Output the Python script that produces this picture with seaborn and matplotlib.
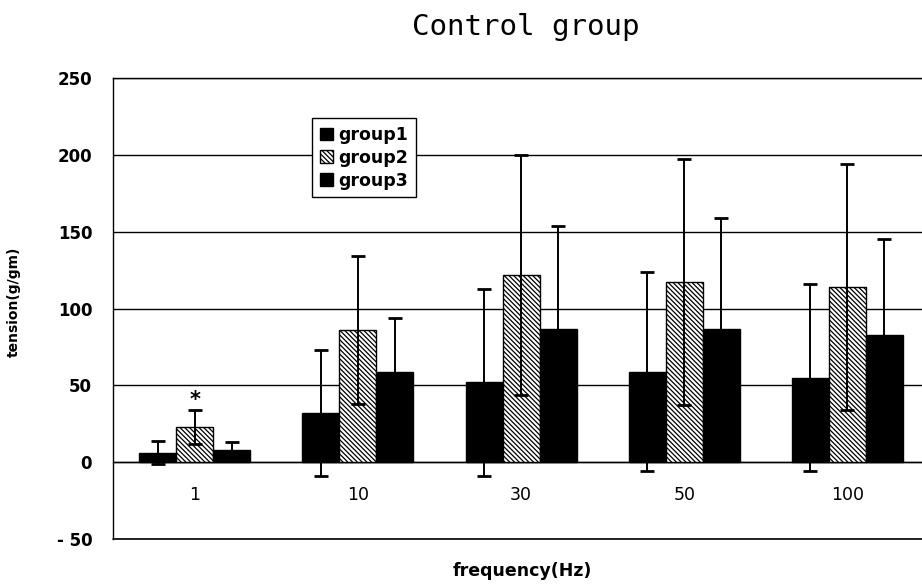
import numpy as np
import pandas as pd
import matplotlib
matplotlib.use("Agg")
import matplotlib.pyplot as plt
import seaborn as sns

# Stimulation frequencies and group labels
frequencies = ["1", "10", "30", "50", "100"]
groups = ["group1", "group2", "group3"]

# Mean tension (g/gm) and standard deviation per frequency
group1_mean = [6, 32, 52, 59, 55]
group1_sd = [7.5, 41, 61, 65, 61]
group2_mean = [23, 86, 122, 117, 114]
group2_sd = [11, 48, 78, 80, 80]
group3_mean = [8, 59, 87, 87, 83]
group3_sd = [5, 35, 67, 72, 62]

# y-axis ticks
yticks = [-50, 0, 50, 100, 150, 200, 250]
ytick_labels = ["- 50", "0", "50", "100", "150", "200", "250"]

means = [group1_mean, group2_mean, group3_mean]
sds = [group1_sd, group2_sd, group3_sd]

df = pd.DataFrame({
    "frequency": np.tile(frequencies, len(groups)),
    "group": np.repeat(groups, len(frequencies)),
    "tension": np.concatenate(means),
})

sns.set_style("white")
plt.rcParams["font.family"] = ["DejaVu Sans"]
plt.rcParams["hatch.linewidth"] = 0.9
for key in ["text.color", "axes.labelcolor", "xtick.color", "ytick.color"]:
    plt.rcParams[key] = "black"

fig = plt.figure(figsize=(9.22, 5.85), dpi=100)
ax = fig.add_axes([0.1226, 0.0786, 0.885, 0.788])

sns.barplot(data=df, x="frequency", y="tension", hue="group",
            order=frequencies, hue_order=groups,
            palette=["black", "white", "black"], saturation=1,
            width=0.68, errorbar=None, edgecolor="black", linewidth=1,
            legend=False, ax=ax, zorder=3)

# densely hatched fill for group2
for p in ax.containers[1].patches:
    p.set_hatch("\\" * 7)
    p.set_facecolor("white")
    p.set_edgecolor("black")

# error bars centred on each bar
for cont, m, s in zip(ax.containers, means, sds):
    xs = [p.get_x() + p.get_width() / 2 for p in cont.patches]
    ax.errorbar(xs, m, yerr=s, fmt="none", ecolor="black", elinewidth=1.4,
                capsize=5, capthick=2, zorder=4)

# significance marker over group2 at 1 Hz
p1 = ax.containers[1].patches[0]
ax.annotate("*", xy=(p1.get_x() + p1.get_width() / 2, group2_mean[0] + group2_sd[0]),
            xytext=(0, 0), textcoords="offset points", ha="center", va="bottom",
            fontsize=15, fontweight="bold", zorder=5)

ax.set_xlim(-0.5, len(frequencies) - 0.5)
ax.set_ylim(-50, 250)
ax.set_yticks(yticks, ytick_labels)
ax.set_xticks(range(len(frequencies)), frequencies)
ax.set_xticks(np.arange(0.5, len(frequencies) - 1, 1.0), minor=True)

ax.set_axisbelow(True)
ax.yaxis.grid(True, color="black", linewidth=1)
ax.xaxis.grid(False)
# lower border of the plot area
ax.axhline(-50, color="black", linewidth=1.2, clip_on=False, zorder=2)

for side in ["left", "top", "right"]:
    ax.spines[side].set_color("black")
    ax.spines[side].set_linewidth(1)
ax.spines["bottom"].set_position(("data", 0))
ax.spines["bottom"].set_color("black")
ax.spines["bottom"].set_linewidth(1)

ax.tick_params(axis="y", length=0, pad=15, labelsize=12)
for lab in ax.get_yticklabels():
    lab.set_fontweight("bold")
ax.tick_params(axis="x", which="major", length=0, pad=17, labelsize=12.5)
ax.tick_params(axis="x", which="minor", direction="in", length=5, width=1, color="black")

ax.set_xlabel("frequency(Hz)", fontsize=12.5, fontweight="bold")
ax.xaxis.set_label_coords(0.501, -0.05)
ax.set_ylabel("tension(g/gm)", fontsize=10, fontweight="bold")
ax.yaxis.set_label_coords(-0.113, 0.514)

ax.set_title("Control group", fontfamily="DejaVu Sans Mono", fontsize=21,
             pad=31, x=0.506, color="black")

leg = ax.legend(ax.containers, groups, loc="upper left",
                bbox_to_anchor=(0.244, 0.913), borderaxespad=0,
                frameon=True, fancybox=False, framealpha=1, edgecolor="black",
                handlelength=0.75, handleheight=0.75, handletextpad=0.3,
                labelspacing=0.28, borderpad=0.45,
                prop={"weight": "bold", "size": 12.5})
leg.get_frame().set_linewidth(1)
leg.set_zorder(6)

fig.savefig("out.png", dpi=100)
